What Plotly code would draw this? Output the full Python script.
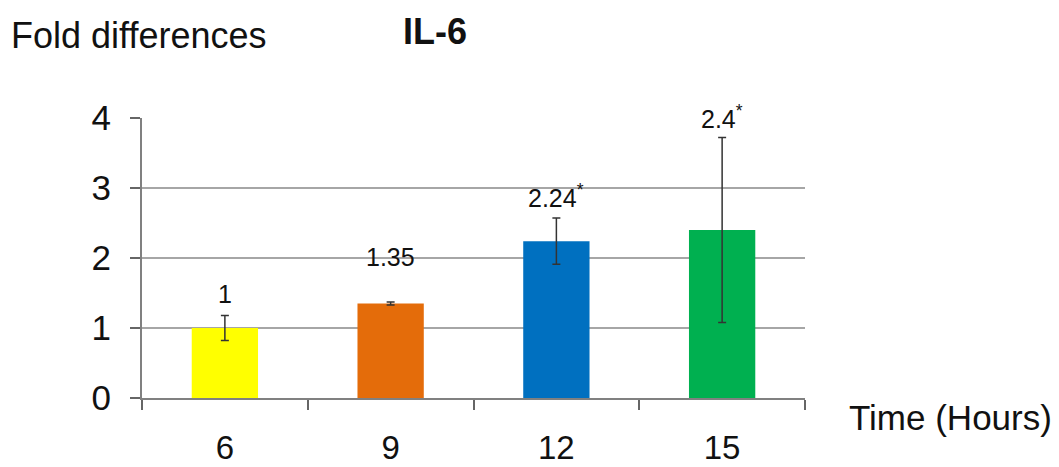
import plotly.graph_objects as go

# IL-6 fold differences over time
hours = ["6", "9", "12", "15"]
fold = [1.0, 1.35, 2.24, 2.4]
err = [0.18, 0.02, 0.33, 1.32]
bar_colors = ["#FFFF00", "#E46C0A", "#0070C0", "#00B050"]
value_labels = ["1", "1.35", "2.24<sup>*</sup>", "2.4<sup>*</sup>"]
label_y = [1.49, 2.02, 2.89, 3.99]
y_ticks = [0, 1, 2, 3, 4]

FONT = "Liberation Sans, Arial, sans-serif"

fig = go.Figure()
fig.add_trace(go.Bar(
    x=hours, y=fold,
    marker=dict(color=bar_colors, line=dict(width=0)),
    error_y=dict(type="data", array=err, visible=True,
                 color="#333333", thickness=1.5, width=4),
    showlegend=False,
))

# value labels placed by category index
for i, (txt, yy) in enumerate(zip(value_labels, label_y)):
    fig.add_annotation(x=i, y=yy, text=txt, showarrow=False,
                       xanchor="center", yanchor="middle",
                       yshift=2 if i == 3 else 0,
                       font=dict(family=FONT, size=25, color="#111111"))

fig.add_annotation(xref="paper", yref="paper", x=-0.2, y=1.296,
                   text="Fold differences", showarrow=False,
                   xanchor="left", yanchor="middle",
                   font=dict(family=FONT, size=36, color="#111111"))
fig.add_annotation(xref="paper", yref="paper", x=0.442, y=1.31,
                   text="<b>IL-6</b>", showarrow=False,
                   xanchor="center", yanchor="middle",
                   font=dict(family=FONT, size=36, color="#111111"))
fig.add_annotation(xref="paper", yref="paper", x=1.063, y=-0.071,
                   text="Time (Hours)", showarrow=False,
                   xanchor="left", yanchor="middle",
                   font=dict(family=FONT, size=35, color="#111111"))

fig.update_layout(
    width=1059, height=467,
    margin=dict(l=142, r=254, t=118, b=69, autoexpand=False),
    paper_bgcolor="white", plot_bgcolor="white",
    bargap=0.6,
    font=dict(family=FONT, color="#111111"),
)
fig.update_xaxes(
    type="category", range=[-0.5, 3.5], tickson="boundaries",
    tickangle=0,
    ticks="outside", ticklen=10, tickcolor="#666666", tickwidth=1.5,
    showline=True, linecolor="#808080", linewidth=1.5,
    showgrid=False, ticklabelstandoff=20,
    tickfont=dict(family=FONT, size=33, color="#111111"),
)
fig.update_yaxes(
    range=[0, 4], tickvals=y_ticks,
    ticks="outside", ticklen=10, tickcolor="#666666", tickwidth=1.5,
    showline=True, linecolor="#808080", linewidth=2,
    showgrid=True, gridcolor="#A6A6A6", gridwidth=1.5,
    zeroline=False, ticklabelstandoff=12,
    tickfont=dict(family=FONT, size=35, color="#111111"),
)

fig.write_html("out.html")
